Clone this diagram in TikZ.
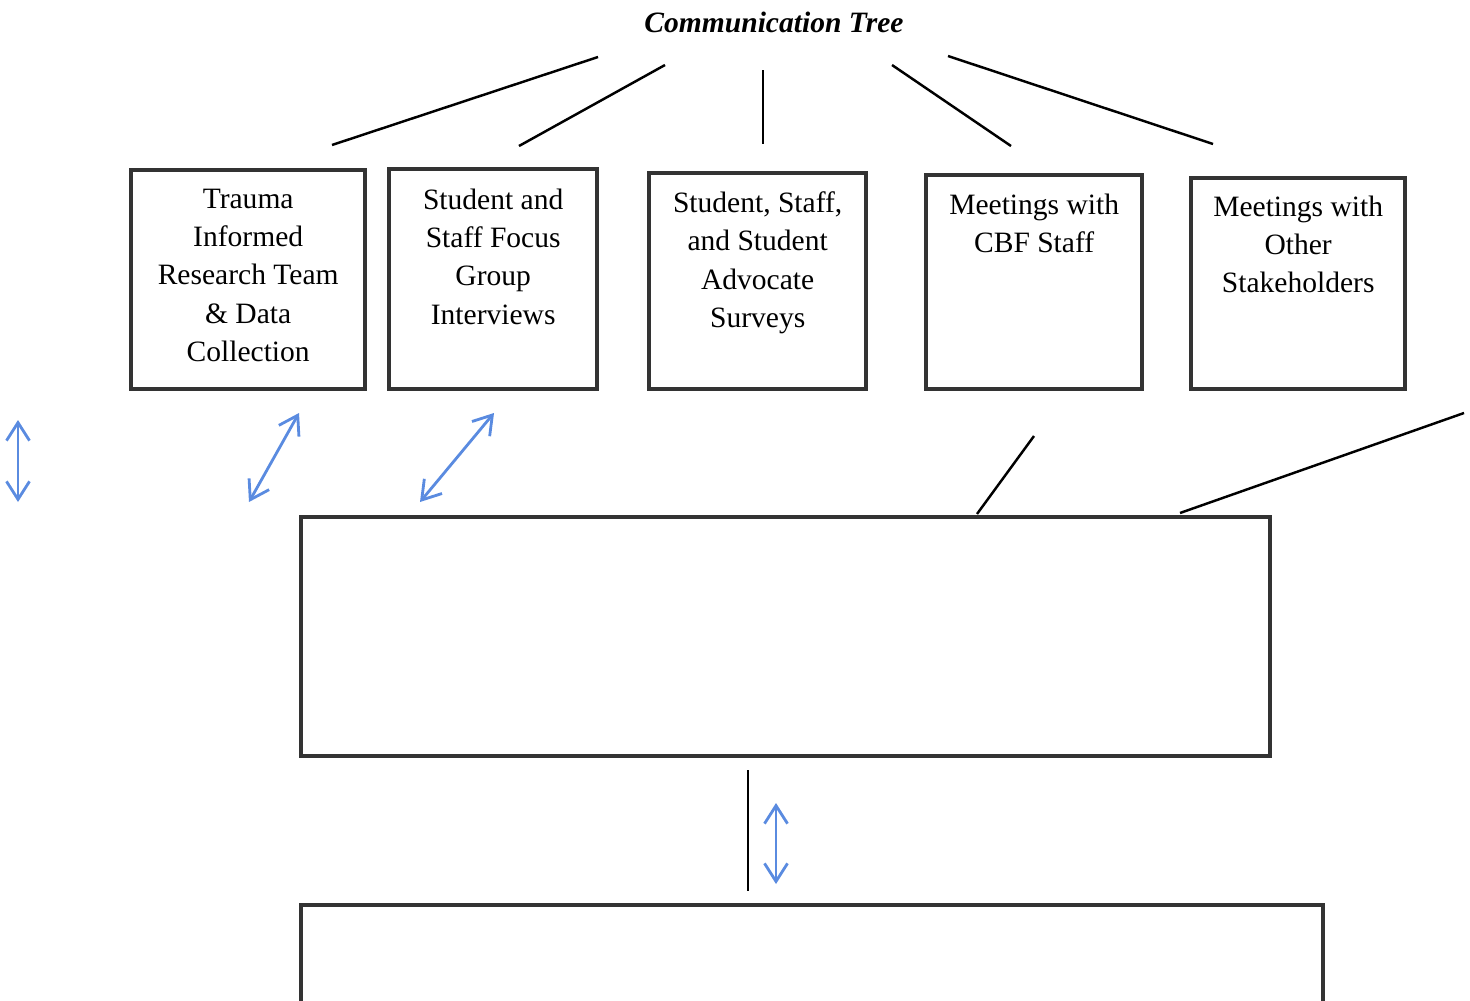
\documentclass[tikz,border=0pt]{standalone}
\usepackage{fontspec}
\setmainfont{LiberationSerif}[Extension=.ttf, UprightFont=*-Regular, BoldFont=*-Bold, ItalicFont=*-Italic, BoldItalicFont=*-BoldItalic]
\usetikzlibrary{arrows.meta, positioning}
\definecolor{cframe}{HTML}{333333}
\definecolor{carrow}{HTML}{5A8BE0}
\tikzset{
  every picture/.style={x=0.01cm, y=-0.01cm},
  box/.style={draw=cframe, line width=1.2pt, inner sep=0pt, anchor=north west},
  boxtext/.style={font=\fontsize{8.4}{10.9}\selectfont, align=center, inner sep=0pt, anchor=north},
  link/.style={draw=black, line width=0.7pt},
  twoway/.style={{Straight Barb[length=1.8mm, width=2.3mm]}-{Straight Barb[length=1.8mm, width=2.3mm]}, draw=carrow, line width=0.8pt},
  title/.style={font=\fontsize{8.4}{10}\selectfont\bfseries\itshape},
}

\begin{document}
\begin{tikzpicture}
  \useasboundingbox (0,0) rectangle (1470,1000);
  \node[title] (tree) at (774,22) {Communication Tree};
  % five source boxes
  \node[box, minimum width=2.34cm, minimum height=2.19cm] (trauma) at (129,168) {};
  \node[box, minimum width=2.08cm, minimum height=2.20cm] (focus) at (387,167) {};
  \node[box, minimum width=2.17cm, minimum height=2.16cm] (survey) at (647,171) {};
  \node[box, minimum width=2.16cm, minimum height=2.14cm] (cbf) at (924,173) {};
  \node[box, minimum width=2.14cm, minimum height=2.11cm] (other) at (1189,176) {};
  \node[boxtext] (traumatxt) at ([yshift=-0.2cm]trauma.north) {Trauma\\Informed\\Research Team\\\& Data\\Collection};
  \node[boxtext] (focustxt) at ([yshift=-0.21cm]focus.north) {Student and\\Staff Focus\\Group\\Interviews};
  \node[boxtext] (surveytxt) at ([yshift=-0.2cm]survey.north) {Student, Staff,\\and Student\\Advocate\\Surveys};
  \node[boxtext] (cbftxt) at ([yshift=-0.2cm]cbf.north) {Meetings with\\CBF Staff};
  \node[boxtext] (othertxt) at ([yshift=-0.19cm]other.north) {Meetings with\\Other\\Stakeholders};
  % empty boxes below
  \node[box, minimum width=9.68cm, minimum height=2.39cm] (centre) at (299,515) {};
  \node[box, minimum width=10.21cm, minimum height=1.5cm] (bottom) at (299,903) {};
  % black lines
  \foreach \xa/\ya/\xb/\yb [count=\i] in {598/57/332/145, 665/65/519/146, 763/70/763/144, 892/65/1011/146, 948/56/1213/144, 1034/436/977/514, 1464/413/1180/513, 748/770/748/891} {
    \coordinate (ln\i a) at (\xa,\ya);
    \coordinate (ln\i b) at (\xb,\yb);
    \draw[link] (ln\i a) -- (ln\i b);
  }
  % blue two-way arrows
  \foreach \xa/\ya/\xb/\yb [count=\i] in {18/420/18/502, 299/413/249/502, 494/413/420/502, 776/803/776/884} {
    \coordinate (tw\i a) at (\xa,\ya);
    \coordinate (tw\i b) at (\xb,\yb);
    \draw[twoway] (tw\i a) -- (tw\i b);
  }
\end{tikzpicture}
\end{document}
